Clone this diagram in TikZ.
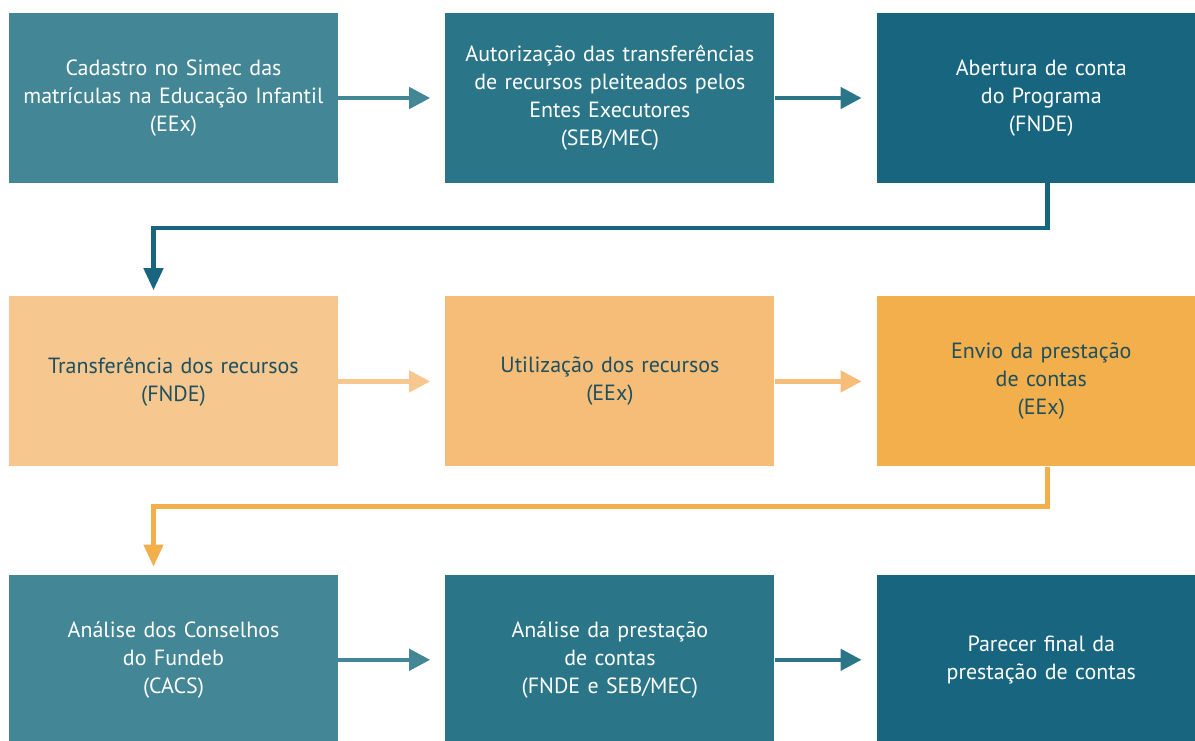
\documentclass[tikz,border=0pt]{standalone}
\usepackage{fontspec}
\setmainfont{PT Sans}
\usetikzlibrary{positioning,arrows.meta,calc}

\definecolor{azul1}{HTML}{438695}
\definecolor{azul2}{HTML}{2A7688}
\definecolor{azul3}{HTML}{186580}
\definecolor{laranja1}{HTML}{F6C890}
\definecolor{laranja2}{HTML}{F5BD78}
\definecolor{laranja3}{HTML}{F3AF4B}
\definecolor{textoescuro}{HTML}{1D4F5F}

\tikzset{
  etapa/.style={rectangle, minimum width=329pt, minimum height=170pt, inner sep=0pt,
    align=center, text width=320pt, font=\fontsize{22}{28}\selectfont},
  etapaazul/.style={etapa, fill=#1, text=white},
  etapalaranja/.style={etapa, fill=#1, text=textoescuro},
  seta/.style={draw=#1, line width=4.5pt, -{Triangle[length=21pt,width=21pt]}, shorten >=15pt},
  retorno/.style={draw=#1, line width=4.5pt, -{Triangle[length=22pt,width=19pt]}}
}

\begin{document}
\begin{tikzpicture}[node distance=107pt and 107pt]
				\useasboundingbox (0,0) rectangle (1195pt,-740pt);
				% linha 1
				\node[etapaazul=azul1] (cadastro) at (173.5pt,-98pt) {Cadastro no Simec das\\matrículas na Educação Infantil\\(EEx)};
				\node[etapaazul=azul2, right=107pt of cadastro] (autorizacao) {Autorização das transferências\\de recursos pleiteados pelos\\Entes Executores\\(SEB/MEC)};
				\node[etapaazul=azul3, right=102pt of autorizacao] (abertura) {Abertura de conta\\do Programa\\(FNDE)};
				% linha 2
				\node[etapalaranja=laranja1, below=113pt of cadastro] (transferencia) {Transferência dos recursos\\(FNDE)};
				\node[etapalaranja=laranja2, right=107pt of transferencia] (utilizacao) {Utilização dos recursos\\(EEx)};
				\node[etapalaranja=laranja3, right=102pt of utilizacao] (envio) {Envio da prestação\\de contas\\(EEx)};
				% linha 3
				\node[etapaazul=azul1, below=108pt of transferencia] (conselhos) {Análise dos Conselhos\\do Fundeb\\(CACS)};
				\node[etapaazul=azul2, right=107pt of conselhos] (analise) {Análise da prestação\\de contas\\(FNDE e SEB/MEC)};
				\node[etapaazul=azul3, right=102pt of analise] (parecer) {Parecer final da\\prestação de contas};
				% setas
				\draw[seta=azul1] (cadastro) -- (autorizacao);
				\draw[seta=azul2] (autorizacao) -- (abertura);
				\draw[seta=laranja1] (transferencia) -- (utilizacao);
				\draw[seta=laranja2] (utilizacao) -- (envio);
				\draw[seta=azul1] (conselhos) -- (analise);
				\draw[seta=azul2] (analise) -- (parecer);
				% retornos
				\coordinate (r1) at ($(abertura.south)+(6pt,0)$);
				\coordinate (r2) at ($(envio.south)+(6pt,0)$);
				\draw[retorno=azul3] (r1) -- ++(0,-45pt) -| ($(transferencia.north)+(-20pt,6pt)$);
				\draw[retorno=laranja3] (r2) -- ++(0,-40pt) -| ($(conselhos.north)+(-20pt,8pt)$);
\end{tikzpicture}
\end{document}
